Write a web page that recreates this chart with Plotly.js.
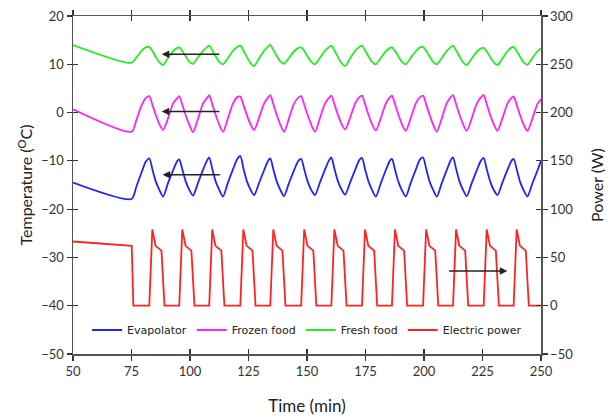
<!DOCTYPE html>
<html>
<head>
<meta charset="utf-8">
<script src="https://cdn.plot.ly/plotly-3.0.1.min.js"></script>
<style>
  html, body { margin: 0; padding: 0; background: #ffffff; }
  #chart { width: 614px; height: 419px; }
</style>
</head>
<body>
<div id="chart"></div>
<script>
// Sampling times (min) shared by the three temperature series
const timeTemp = [
  50, 75, 77.1, 79.3, 81.1,
  82.6, 84.0, 85.4, 86.9, 88.5, 90.6, 92.8, 94.6,
  95.4, 96.8, 98.2, 99.7, 101.3, 103.4, 105.6, 107.4,
  108.2, 109.6, 111.0, 112.5, 114.1, 116.2, 118.4, 120.2,
  121.5, 122.9, 124.3, 125.8, 127.4, 129.5, 131.7, 133.5,
  134.3, 135.7, 137.1, 138.6, 140.2, 142.3, 144.5, 146.3,
  147.5, 148.9, 150.3, 151.8, 153.4, 155.5, 157.7, 159.5,
  160.4, 161.8, 163.2, 164.7, 166.3, 168.4, 170.6, 172.4,
  173.5, 174.9, 176.3, 177.8, 179.4, 181.5, 183.7, 185.5,
  186.3, 187.7, 189.1, 190.6, 192.2, 194.3, 196.5, 198.3,
  199.6, 201.0, 202.4, 203.9, 205.5, 207.6, 209.8, 211.6,
  212.4, 213.8, 215.2, 216.7, 218.3, 220.4, 222.6, 224.4,
  225.5, 226.9, 228.3, 229.8, 231.4, 233.5, 235.7, 237.5,
  238.3, 239.7, 241.1, 242.6, 244.2, 246.3, 248.5, 250
];

// Evaporator temperature (°C)
const evaporator = [
  -14.5, -17.9, -15.3, -12.4, -10.2,
  -9.5, -11.9, -14.3, -16.0, -17.4, -14.6, -11.9, -10.0,
  -9.7, -11.9, -14.3, -16.0, -17.2, -14.6, -11.8, -9.8,
  -9.3, -11.8, -14.3, -16.0, -17.4, -14.5, -11.7, -9.6,
  -9.0, -11.7, -14.2, -15.9, -17.1, -14.6, -11.9, -9.9,
  -9.5, -11.9, -14.3, -16.0, -17.3, -14.6, -11.9, -10.0,
  -9.6, -11.9, -14.3, -16.0, -17.1, -14.5, -11.8, -9.8,
  -9.3, -11.8, -14.2, -15.9, -17.0, -14.5, -11.8, -9.8,
  -9.4, -11.9, -14.3, -16.0, -17.4, -14.7, -11.9, -9.9,
  -9.6, -12.0, -14.4, -16.1, -17.4, -14.6, -11.8, -9.7,
  -9.3, -11.8, -14.3, -16.0, -17.4, -14.6, -11.8, -9.7,
  -9.3, -11.8, -14.3, -16.0, -17.3, -14.6, -11.9, -9.9,
  -9.4, -11.9, -14.3, -16.0, -17.1, -14.5, -11.8, -9.9,
  -9.6, -11.9, -14.4, -16.1, -17.4, -14.7, -12.0, -10.0
];

// Frozen food temperature (°C)
const frozenFood = [
  0.7, -3.96, -1.5, 1.5, 3.0,
  3.4, 1.5, -0.5, -2.4, -3.6, -1.2, 1.9, 3.0,
  3.4, 1.5, -0.6, -2.5, -4.1, -1.3, 1.9, 3.1,
  3.6, 1.6, -0.5, -2.5, -4.0, -1.2, 1.9, 3.2,
  3.3, 1.5, -0.5, -2.4, -3.6, -1.1, 1.9, 3.2,
  3.6, 1.6, -0.5, -2.5, -4.0, -1.2, 1.9, 3.1,
  3.4, 1.5, -0.5, -2.5, -3.96, -1.2, 1.9, 3.1,
  3.5, 1.6, -0.4, -2.3, -3.5, -1.1, 1.9, 3.2,
  3.5, 1.6, -0.5, -2.4, -3.7, -1.2, 1.9, 3.2,
  3.5, 1.6, -0.5, -2.4, -3.8, -1.2, 1.9, 3.2,
  3.5, 1.6, -0.5, -2.5, -3.96, -1.2, 2.0, 3.3,
  3.6, 1.6, -0.5, -2.4, -3.8, -1.2, 1.9, 3.2,
  3.6, 1.6, -0.5, -2.4, -3.8, -1.2, 1.9, 3.1,
  3.3, 1.5, -0.6, -2.5, -3.8, -1.3, 1.8, 2.75
];

// Fresh food temperature (°C)
const freshFood = [
  14.0, 10.3, 11.4, 12.8, 13.5,
  13.6, 12.7, 11.5, 10.4, 9.85, 11.3, 12.7, 13.4,
  13.5, 12.7, 11.6, 10.5, 10.1, 11.4, 12.8, 13.6,
  13.85, 12.8, 11.6, 10.5, 10.0, 11.3, 12.8, 13.6,
  13.85, 12.8, 11.5, 10.3, 9.65, 11.2, 12.8, 13.7,
  14.0, 12.9, 11.7, 10.6, 10.1, 11.3, 12.7, 13.4,
  13.5, 12.7, 11.6, 10.5, 10.0, 11.3, 12.8, 13.6,
  13.85, 12.8, 11.5, 10.3, 9.65, 11.2, 12.8, 13.6,
  13.85, 12.8, 11.6, 10.5, 10.0, 11.3, 12.7, 13.4,
  13.5, 12.7, 11.6, 10.5, 10.0, 11.3, 12.7, 13.5,
  13.6, 12.7, 11.6, 10.5, 10.0, 11.3, 12.8, 13.6,
  13.85, 12.8, 11.6, 10.4, 9.85, 11.2, 12.6, 13.3,
  13.4, 12.6, 11.5, 10.4, 9.85, 11.2, 12.7, 13.5,
  13.6, 12.7, 11.5, 10.4, 9.9, 11.3, 12.7, 13.3
];

// Compressor electric power (W) with its own time base
const timePower = [
  50, 75.1, 75.8,
  82.6, 83.9, 85.3, 87.8, 89.1,
  95.4, 96.7, 98.1, 100.6, 101.9,
  108.2, 109.5, 110.9, 113.4, 114.7,
  121.5, 122.8, 124.2, 126.7, 128.0,
  134.3, 135.6, 137.0, 139.5, 140.8,
  147.5, 148.8, 150.2, 152.7, 154.0,
  160.4, 161.7, 163.1, 165.6, 166.9,
  173.5, 174.8, 176.2, 178.7, 180.0,
  186.3, 187.6, 189.0, 191.5, 192.8,
  199.6, 200.9, 202.3, 204.8, 206.1,
  212.4, 213.7, 215.1, 217.6, 218.9,
  225.5, 226.8, 228.2, 230.7, 232.0,
  238.3, 239.6, 241.0, 243.5, 244.8,
  250
];
const electricPower = [
  66.5, 62, 0,
  0, 79, 62, 57, 0,
  0, 79, 62, 57, 0,
  0, 79, 62, 57, 0,
  0, 79, 62, 57, 0,
  0, 79, 62, 57, 0,
  0, 79, 62, 57, 0,
  0, 79, 62, 57, 0,
  0, 79, 62, 57, 0,
  0, 79, 62, 57, 0,
  0, 79, 62, 57, 0,
  0, 79, 62, 57, 0,
  0, 79, 62, 57, 0,
  0, 79, 62, 57, 0,
  0
];

// Direction arrows: [tail time, head time, level, axis]
const arrows = [
  [113.2, 87.9, 12.1, 'y'],
  [113.2, 87.9, 0.2, 'y'],
  [113.4, 88.3, -12.9, 'y'],
  [210.1, 235.6, 36, 'y2']
];

const seriesNames = ['Evapolator', 'Frozen food', 'Fresh food', 'Electric power'];
const seriesColors = ['#2222ff', '#ff22ff', '#22ee22', '#ff2222'];

const lineW = 1.8;
const tempSeries = [evaporator, frozenFood, freshFood];

const traces = tempSeries.map((vals, i) => ({
  type: 'scatter', mode: 'lines',
  x: timeTemp, y: vals,
  name: seriesNames[i],
  line: { color: seriesColors[i], width: lineW, shape: 'spline', smoothing: 0.7 },
  hoverinfo: 'skip'
}));

traces.push({
  type: 'scatter', mode: 'lines',
  x: timePower, y: electricPower,
  name: seriesNames[3], yaxis: 'y2',
  line: { color: seriesColors[3], width: lineW },
  hoverinfo: 'skip'
});

// Empty helper traces so the inner-tick overlay axes get drawn
traces.push({ type: 'scatter', x: [null], y: [null], xaxis: 'x2', yaxis: 'y', showlegend: false, hoverinfo: 'skip' });
traces.push({ type: 'scatter', x: [null], y: [null], xaxis: 'x', yaxis: 'y3', showlegend: false, hoverinfo: 'skip' });

const axisColor = '#555555';
const tickFont = { family: 'Lato, "Open Sans", sans-serif', size: 13, color: '#333333' };
const titleFont = { family: 'Lato, "Open Sans", sans-serif', size: 17, color: '#222222' };
const yTitleFont = { family: 'Lato, "Open Sans", sans-serif', size: 16, color: '#222222' };

const annotations = arrows.map(a => ({
  x: a[1], y: a[2], ax: a[0], ay: a[2],
  xref: 'x', yref: a[3], axref: 'x', ayref: a[3],
  text: '', showarrow: true,
  arrowhead: 2, arrowsize: 1, arrowwidth: 1.5, arrowcolor: '#222222'
}));

const layout = {
  width: 614, height: 419,
  margin: { l: 73, r: 73, t: 16, b: 65 },
  paper_bgcolor: '#ffffff', plot_bgcolor: '#ffffff',
  showlegend: true,
  legend: {
    orientation: 'h', x: 0.5, xanchor: 'center', y: 0.071, yanchor: 'middle',
    font: { family: '"DejaVu Sans", sans-serif', size: 11, color: '#222222' },
    bgcolor: 'rgba(0,0,0,0)', traceorder: 'normal'
  },
  xaxis: {
    range: [50, 250], tick0: 50, dtick: 25,
    ticks: 'outside', ticklen: 5, tickwidth: 1.2, tickcolor: '#333333',
    showline: true, linecolor: axisColor, linewidth: 1.5, mirror: 'ticks',
    showgrid: false, zeroline: false, tickfont: tickFont,
    title: { text: 'Time (min)', font: titleFont, standoff: 22 }
  },
  xaxis2: {
    overlaying: 'x', anchor: 'y', range: [50, 250], tick0: 50, dtick: 25,
    ticks: 'inside', ticklen: 5, tickwidth: 1.2, tickcolor: '#333333',
    mirror: 'ticks', showline: false, showticklabels: false,
    showgrid: false, zeroline: false
  },
  yaxis: {
    range: [-50, 20], tick0: -50, dtick: 10,
    ticks: 'outside', ticklen: 5, tickwidth: 1.2, tickcolor: '#333333',
    showline: true, linecolor: axisColor, linewidth: 1.5,
    showgrid: false, zeroline: false, tickfont: tickFont,
    title: { text: 'Temperature (<sup>O</sup>C)', font: yTitleFont, standoff: 4 }
  },
  yaxis2: {
    overlaying: 'y', side: 'right', anchor: 'x',
    range: [-50, 300], tick0: -50, dtick: 50,
    ticks: 'outside', ticklen: 5, tickwidth: 1.2, tickcolor: '#333333',
    showline: true, linecolor: axisColor, linewidth: 1.5,
    showgrid: false, zeroline: false, tickfont: tickFont,
    title: { text: 'Power (W)', font: yTitleFont, standoff: 19 }
  },
  yaxis3: {
    overlaying: 'y', anchor: 'x', range: [-50, 20], tick0: -50, dtick: 10,
    ticks: 'inside', ticklen: 5, tickwidth: 1.2, tickcolor: '#333333',
    mirror: 'ticks', showline: false, showticklabels: false,
    showgrid: false, zeroline: false
  },
  annotations: annotations
};

Plotly.newPlot('chart', traces, layout, { staticPlot: true, displayModeBar: false });
</script>
</body>
</html>
